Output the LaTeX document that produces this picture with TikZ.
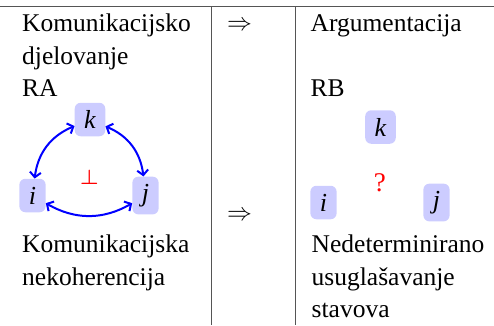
\documentclass[tikz,border=0pt]{standalone}
\usepackage{fontspec}
\setmainfont{Liberation Serif}
\usetikzlibrary{arrows.meta}
\definecolor{nodefill}{HTML}{CCCCFF}
\definecolor{rulegray}{HTML}{555555}
\tikzset{
  txt/.style={anchor=base west, inner sep=0pt, font=\fontsize{25.5}{30}\selectfont},
  impl/.style={inner sep=0pt, font=\fontsize{23}{23}\selectfont},
  agent/.style={fill=nodefill, rounded corners=6pt, inner xsep=9.5pt, inner ysep=7.5pt,
    minimum height=33.5pt, font=\fontsize{26}{26}\selectfont\itshape},
  rel/.style={blue, line width=2pt, {Straight Barb[length=5pt,width=11pt]}-{Straight Barb[length=5pt,width=11pt]}},
  rule/.style={rulegray, line width=0.9pt},
}
\begin{document}
\begin{tikzpicture}[x=1pt, y=-1pt]
\useasboundingbox (0,0) rectangle (494,325);
% table rules
\coordinate (tl) at (0,6);
\coordinate (tr) at (494,6);
\coordinate (v1t) at (211,6);
\coordinate (v1b) at (211,325);
\coordinate (v2t) at (295.7,6);
\coordinate (v2b) at (295.7,325);
\draw[rule] (tl) -- (tr);
\draw[rule] (v1t) -- (v1b);
\draw[rule] (v2t) -- (v2b);
% left column text
\node[txt] (l1) at (22,31.7) {Komunikacijsko};
\node[txt] (l2) at (22,64.2) {djelovanje};
\node[txt] (l3) at (22,96.7) {RA};
\node[txt] (l4) at (22,252.7) {Komunikacijska};
\node[txt] (l5) at (22,285) {nekoherencija};
% middle column
\node[impl] (a1) at (239.5,25.7) {$\Rightarrow$};
\node[impl] (a2) at (239.5,216) {$\Rightarrow$};
% right column text
\node[txt] (r1) at (310.5,31.7) {Argumentacija};
\node[txt] (r2) at (310.5,96.7) {RB};
\node[txt] (r3) at (311.5,252.7) {Nedeterminirano};
\node[txt] (r4) at (311.5,285) {usuglašavanje};
\node[txt] (r5) at (311.5,317) {stavova};
% left graph
\node[agent] (ka) at (90,119.5) {k};
\node[agent] (ia) at (32.5,195.5) {i};
\node[agent] (ja) at (145.5,195.5) {j};
\draw[rel] (ka) to[bend right=30] (ia);
\draw[rel] (ka) to[bend left=30] (ja);
\draw[rel] (ia) to[bend right=30] (ja);
\node[text=red, inner sep=0pt, font=\fontsize{21}{21}\selectfont\boldmath] (bot) at (89.5,177) {$\bot$};
% right graph
\node[agent] (kb) at (380.5,127) {k};
\node[agent] (ib) at (323.5,202.5) {i};
\node[agent] (jb) at (436.5,202.5) {j};
\node[text=red, inner sep=0pt, font=\fontsize{27}{27}\selectfont] (q) at (379.8,182.5) {?};
\end{tikzpicture}
\end{document}
